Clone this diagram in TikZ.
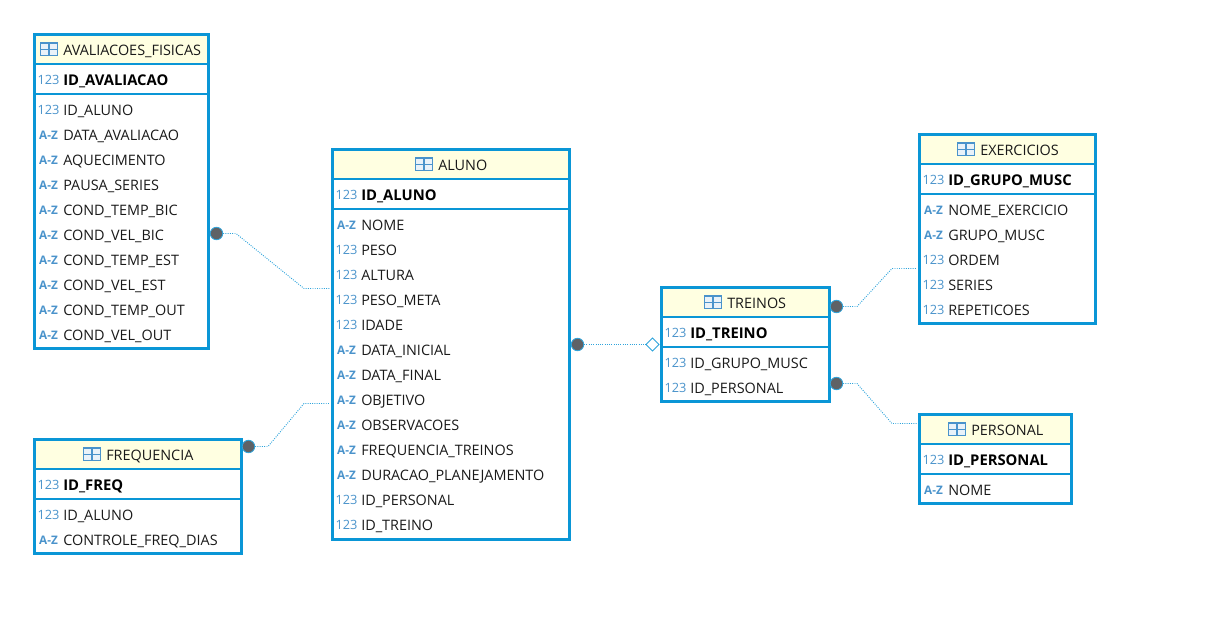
\documentclass[tikz,border=0pt]{standalone}
\usepackage{fontspec}
\setmainfont{Open Sans}
\usepackage{tikz}
\usetikzlibrary{fit}
\usetikzlibrary{shapes.geometric}
\definecolor{framecol}{HTML}{0A96D6}
\definecolor{linkcol}{HTML}{2FA4DC}
\definecolor{typecol}{HTML}{4A93CB}
\definecolor{titlecol}{HTML}{FFFFE1}
\definecolor{dotcol}{HTML}{5F6266}
\tikzset{
  tablebox/.style={draw=framecol, line width=2.25pt, inner sep=0pt},
  titleband/.style={fill=titlecol, inner sep=0pt},
  divider/.style={draw=framecol, line width=1.5pt},
  coltext/.style={anchor=base west, inner sep=0pt, font=\fontsize{10.8}{13}\selectfont, text=black!90},
  keytext/.style={coltext, font=\fontsize{11.1}{13}\selectfont\bfseries, text=black},
  typetext/.style={anchor=base, inner sep=0pt, font=\fontsize{9.6}{10}\selectfont, text=typecol},
  tableicon/.style={draw=typecol, line width=1pt, fill=typecol!12, minimum width=12.6pt, minimum height=9.4pt, inner sep=0pt},
  fkdot/.style={circle, fill=dotcol, draw=linkcol, line width=0.6pt, minimum size=9.4pt, inner sep=0pt},
  refdiamond/.style={diamond, draw=linkcol, fill=white, line width=0.6pt, minimum size=10pt, inner sep=0pt},
  linkline/.style={draw=linkcol, line width=0.7pt, densely dotted},
}
\newcommand{\azt}{{\fontsize{8.8}{10}\selectfont\bfseries A-Z}}
% table: id, x0, y0, x1, y1, icon x, title, key type, key, rows
\newcommand{\erdtable}[9]{
  \coordinate (#1 nw) at (#2-0.7,#3-0.7);
  \coordinate (#1 se) at (#4-0.3,#5-0.1);
  \coordinate (#1 te) at (#4-0.3,#3+28.3);
  \node[titleband, fit=(#1 nw)(#1 te)] (#1 band) {};
  \draw[divider] (#2-0.7,#3+28.8) -- (#4-0.3,#3+28.8);
  \draw[divider] (#2-0.7,#3+58.8) -- (#4-0.3,#3+58.8);
  \node[tablebox, fit=(#1 nw)(#1 se)] (#1) {};
  \node[tableicon] (#1 icon) at (#6+9,#3+14.3) {};
  \draw[draw=typecol, line width=1pt] (#1 icon.west) -- (#1 icon.east);
  \draw[draw=typecol, line width=1pt] (#1 icon.north) -- (#1 icon.south);
  \node[coltext] (#1 title) at (#6+23,#3+20) {#7};
  \node[typetext] (#1 keytype) at (#2+13.5,#3+49) {#8};
  \node[keytext] (#1 key) at (#2+28,#3+50) {#9};
  \erdrows{#1}{#2}{#3}
}
\newcommand{\erdrows}[3]{
  \foreach \coltype/\colname [count=\i] in \rowlist {
    \node[typetext] (#1 type\i) at (#2+13.5,#3+54+25*\i) {\coltype};
    \node[coltext] (#1 row\i) at (#2+28,#3+55+25*\i) {\colname};
  }
}
\begin{document}
\begin{tikzpicture}[x=0.75pt,y=-0.75pt]
  \useasboundingbox (0,0) rectangle (1221,625);
  % tables %
  \def\rowlist{123/ID\_ALUNO,\azt/DATA\_AVALIACAO,\azt/AQUECIMENTO,\azt/PAUSA\_SERIES,\azt/COND\_TEMP\_BIC,\azt/COND\_VEL\_BIC,\azt/COND\_TEMP\_EST,\azt/COND\_VEL\_EST,\azt/COND\_TEMP\_OUT,\azt/COND\_VEL\_OUT}
  \erdtable{avaliacoes}{35}{35}{209}{349}{40}{AVALIACOES\_FISICAS}{123}{ID\_AVALIACAO}
  \def\rowlist{\azt/NOME,123/PESO,123/ALTURA,123/PESO\_META,123/IDADE,\azt/DATA\_INICIAL,\azt/DATA\_FINAL,\azt/OBJETIVO,\azt/OBSERVACOES,\azt/FREQUENCIA\_TREINOS,\azt/DURACAO\_PLANEJAMENTO,123/ID\_PERSONAL,123/ID\_TREINO}
  \erdtable{aluno}{333}{150}{570}{540}{415}{ALUNO}{123}{ID\_ALUNO}
  \def\rowlist{123/ID\_ALUNO,\azt/CONTROLE\_FREQ\_DIAS}
  \erdtable{frequencia}{35}{440}{242}{554}{83}{FREQUENCIA}{123}{ID\_FREQ}
  \def\rowlist{123/ID\_GRUPO\_MUSC,123/ID\_PERSONAL}
  \erdtable{treinos}{662}{288}{830}{402}{704}{TREINOS}{123}{ID\_TREINO}
  \def\rowlist{\azt/NOME\_EXERCICIO,\azt/GRUPO\_MUSC,123/ORDEM,123/SERIES,123/REPETICOES}
  \erdtable{exercicios}{920}{135}{1096}{324}{957}{EXERCICIOS}{123}{ID\_GRUPO\_MUSC}
  \def\rowlist{\azt/NOME}
  \erdtable{personal}{920}{415}{1072}{504}{948}{PERSONAL}{123}{ID\_PERSONAL}
  % link ends %
  \node[fkdot] (avaliacoesfk) at (216.5,233.5) {};
  \node[fkdot] (frequenciafk) at (248.5,446.5) {};
  \node[fkdot] (alunofk) at (577.5,344.5) {};
  \node[refdiamond] (treinosref) at (652.5,344.5) {};
  \node[fkdot] (treinosfk) at (836.5,306.5) {};
  \node[fkdot] (personalfk) at (836.5,383.5) {};
  \coordinate (a1) at (236,233.5);
  \coordinate (a2) at (304,288.5);
  \coordinate (a3) at (330,288.5);
  \coordinate (f1) at (268,446.5);
  \coordinate (f2) at (304,403.5);
  \coordinate (f3) at (330,403.5);
  \coordinate (t1) at (857,306.5);
  \coordinate (t2) at (892,268.5);
  \coordinate (t3) at (917,268.5);
  \coordinate (p1) at (857,383.5);
  \coordinate (p2) at (892,423.5);
  \coordinate (p3) at (917,423.5);
  % links %
  \draw[linkline] (avaliacoesfk) -- (a1) -- (a2) -- (a3);
  \draw[linkline] (frequenciafk) -- (f1) -- (f2) -- (f3);
  \draw[linkline] (alunofk) -- (treinosref);
  \draw[linkline] (treinosfk) -- (t1) -- (t2) -- (t3);
  \draw[linkline] (personalfk) -- (p1) -- (p2) -- (p3);
\end{tikzpicture}
\end{document}
